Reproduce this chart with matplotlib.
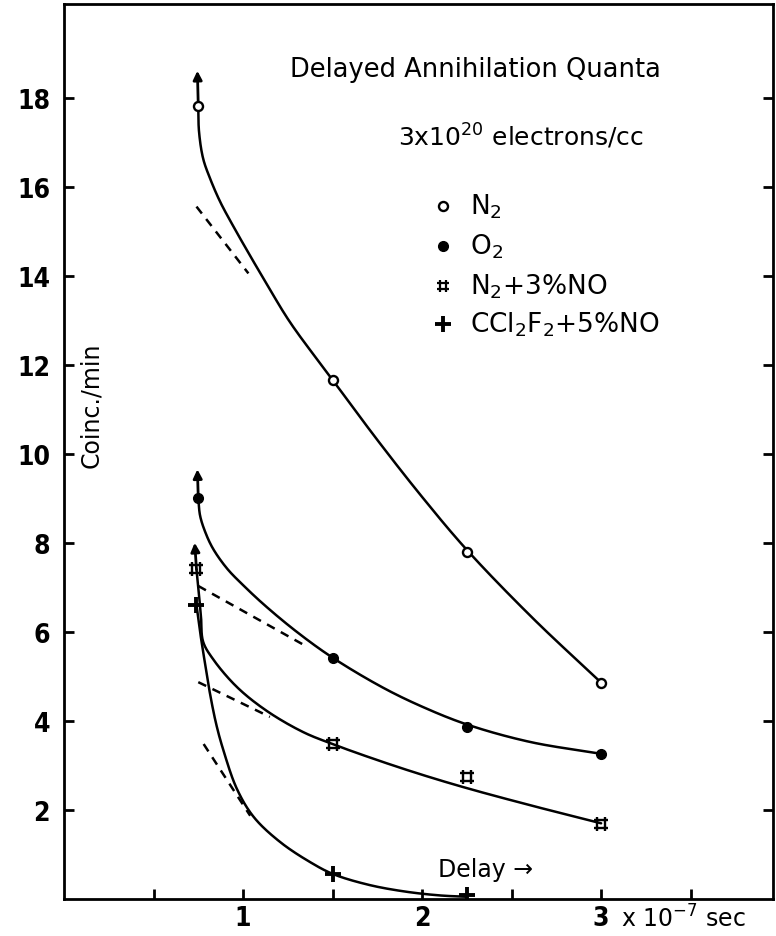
import matplotlib.pyplot as plt
import numpy as np
from matplotlib.path import Path

# measured points (delay in 1e-7 sec, coincidences per minute)
delay = [0.75, 1.5, 2.25, 3.0]
n2 = [17.8, 11.66, 7.8, 4.85]
o2 = [9.0, 5.42, 3.87, 3.26]
delay_no = [0.74, 1.5, 2.25, 3.0]
n2_no = [7.4, 3.48, 2.74, 1.69]
delay_ccl = [0.74, 1.5, 2.25]
ccl2f2_no = [6.6, 0.56, 0.08]

# hand-drawn fit curves traced through the points
n2_fit_x = [0.75, 0.754, 0.777, 0.816, 0.872, 0.944, 1.039, 1.134, 1.263, 1.5, 1.75, 2.0, 2.25, 2.62, 3.0]
n2_fit_y = [17.8, 17.24, 16.63, 16.18, 15.66, 15.12, 14.45, 13.8, 12.95, 11.66, 10.31, 9.03, 7.84, 6.3, 4.86]
o2_fit_x = [0.75, 0.76, 0.788, 0.832, 0.911, 1.0, 1.12, 1.3, 1.5, 1.78, 2.0, 2.25, 2.6, 3.0]
o2_fit_y = [9.0, 8.61, 8.25, 7.87, 7.42, 7.05, 6.6, 6.0, 5.42, 4.75, 4.32, 3.92, 3.53, 3.26]
no_fit_x = [0.74, 0.75, 0.765, 0.777, 0.832, 0.966, 1.134, 1.335, 1.5, 1.75, 2.0, 2.25, 2.6, 3.0]
no_fit_y = [7.4, 7.0, 6.35, 5.78, 5.39, 4.76, 4.22, 3.75, 3.48, 3.12, 2.79, 2.49, 2.11, 1.7]
ccl_fit_x = [0.74, 0.76, 0.788, 0.816, 0.85, 0.888, 0.966, 1.06, 1.207, 1.374, 1.503, 1.7, 1.9, 2.1, 2.25]
ccl_fit_y = [6.6, 6.0, 5.28, 4.6, 3.93, 3.37, 2.47, 1.84, 1.28, 0.83, 0.56, 0.32, 0.17, 0.08, 0.05]

# dashed extrapolations of the slow component
n2_dash = ([0.74, 1.03], [15.55, 14.05])
o2_dash = ([0.75, 1.36], [7.03, 5.66])
no_dash = ([0.75, 1.15], [4.87, 4.09])
ccl_dash = ([0.78, 1.04], [3.48, 1.87])

# arrows at the first delay (value is a lower limit)
arrows = [((0.75, 17.8), (0.745, 18.6)),
          ((0.75, 9.0), (0.745, 9.65)),
          ((0.74, 7.4), (0.73, 8.0))]

XS, YS = 179.0, 44.5   # px per unit, so the spline is smooth on the page


def catmull_rom(xs, ys, n=24):
    p = np.column_stack([np.asarray(xs) * XS, np.asarray(ys) * YS])
    p = np.vstack([2 * p[0] - p[1], p, 2 * p[-1] - p[-2]])
    out = []
    for i in range(1, len(p) - 2):
        p0, p1, p2, p3 = p[i - 1], p[i], p[i + 1], p[i + 2]
        t0 = 0.0
        t1 = t0 + np.linalg.norm(p1 - p0) ** 0.5
        t2 = t1 + np.linalg.norm(p2 - p1) ** 0.5
        t3 = t2 + np.linalg.norm(p3 - p2) ** 0.5
        t = np.linspace(t1, t2, n)[:, None]
        a1 = (t1 - t) / (t1 - t0) * p0 + (t - t0) / (t1 - t0) * p1
        a2 = (t2 - t) / (t2 - t1) * p1 + (t - t1) / (t2 - t1) * p2
        a3 = (t3 - t) / (t3 - t2) * p2 + (t - t2) / (t3 - t2) * p3
        b1 = (t2 - t) / (t2 - t0) * a1 + (t - t0) / (t2 - t0) * a2
        b2 = (t3 - t) / (t3 - t1) * a2 + (t - t1) / (t3 - t1) * a3
        out.append((t2 - t) / (t2 - t1) * b1 + (t - t1) / (t2 - t1) * b2)
    c = np.vstack(out)
    return c[:, 0] / XS, c[:, 1] / YS


# little "#"-like marker used for N2 + 3% NO
hash_marker = Path(
    [(-1, -0.55), (1, -0.55), (-1, 0.55), (1, 0.55),
     (-0.55, -1), (-0.55, 1), (0.55, -1), (0.55, 1)],
    [Path.MOVETO, Path.LINETO] * 4)

fig = plt.figure(figsize=(7.76, 9.37), dpi=100)
ax = fig.add_axes([64 / 776, 37 / 937, 709 / 776, 895 / 937])

lw = 1.8
for fx, fy in [(n2_fit_x, n2_fit_y), (o2_fit_x, o2_fit_y),
               (no_fit_x, no_fit_y), (ccl_fit_x, ccl_fit_y)]:
    cx, cy = catmull_rom(fx, fy)
    ax.plot(cx, cy, color='black', lw=lw, zorder=2, solid_capstyle='round')

for dx, dy in [n2_dash, o2_dash, no_dash, ccl_dash]:
    ax.plot(dx, dy, color='black', lw=1.8, dashes=(3.5, 2.8), zorder=2)

for start, tip in arrows:
    ax.annotate('', xy=tip, xytext=start,
                arrowprops=dict(arrowstyle='-|>', color='black', lw=2,
                                mutation_scale=13, shrinkA=0, shrinkB=0))

ax.plot(delay, n2, 'o', ms=6.5, mfc='white', mec='black', mew=1.7, zorder=3)
ax.plot(delay, o2, 'o', ms=7, color='black', zorder=3)
ax.plot(delay_no, n2_no, ls='none', marker=hash_marker, ms=10, mfc='none',
        mec='black', mew=1.7, zorder=3)
ax.plot(delay_ccl, ccl2f2_no, '+', ms=12, mec='black', mew=2.8, zorder=3)

ax.set_xlim(0, 3.96)
ax.set_ylim(0, 20.1)

for s in ax.spines.values():
    s.set_linewidth(2)

num_font = dict(family='DejaVu Sans', weight='bold', size=19,
                stretch='condensed')
ax.set_yticks([2, 4, 6, 8, 10, 12, 14, 16, 18])
ax.set_yticklabels(['2', '4', '6', '8', '10', '12', '14', '16', '18'], **num_font)
ax.set_xticks([0.5, 1, 1.5, 2, 2.5, 3, 3.5])
ax.set_xticklabels(['', '1', '', '2', '', '3', ''], **num_font)
ax.tick_params(axis='y', direction='in', length=7, width=2, pad=10,
               right=True)
ax.tick_params(axis='x', direction='in', length=7, width=2, pad=4)

fig.text(621 / 776, 1 - 919 / 937, r'x 10$^{-7}$ sec', fontsize=17,
         ha='left', va='center')

ax.set_ylabel('Coinc./min', fontsize=17)
ax.yaxis.set_label_coords(39 / 709, 0.553)

fig.text(475 / 776, 1 - 70 / 937, 'Delayed Annihilation Quanta',
         fontsize=18.5, ha='center', va='center')
fig.text(521 / 776, 1 - 136 / 937, r'3x10$^{20}$ electrons/cc',
         fontsize=18, ha='center', va='center')

legend_rows = [('o', dict(ms=6.5, mfc='white', mec='black', mew=1.7), r'N$_2$'),
               ('o', dict(ms=7, color='black'), r'O$_2$'),
               (hash_marker, dict(ms=9, mfc='none', mec='black', mew=1.6),
                r'N$_2$+3%NO'),
               ('+', dict(ms=12, mec='black', mew=2.8), r'CCl$_2$F$_2$+5%NO')]
legend_y = [207, 247, 287, 325]
for (mk, style, label), py in zip(legend_rows, legend_y):
    fy = 1 - py / 937
    fig.add_artist(plt.Line2D([443 / 776], [fy], marker=mk, ls='none',
                              transform=fig.transFigure, **style))
    fig.text(470 / 776, fy, label, fontsize=19, ha='left', va='center')

fig.text(438 / 776, 1 - 870 / 937, 'Delay \u2192', fontsize=17,
         ha='left', va='center')

fig.savefig('out.png', dpi=100)
